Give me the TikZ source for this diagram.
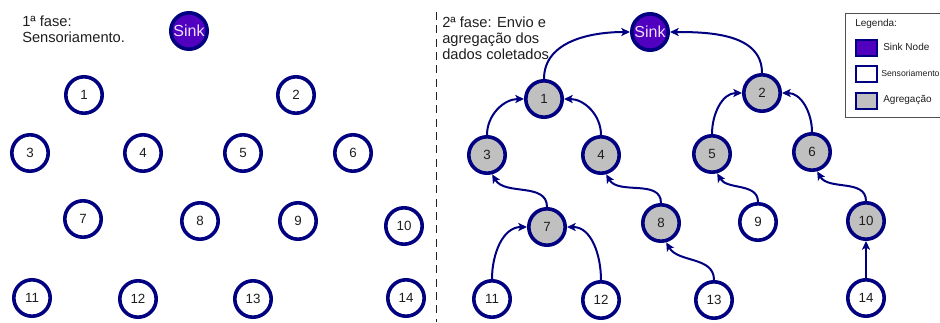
\documentclass[tikz,border=0pt]{standalone}
\usepackage{fontspec}
\setmainfont{Liberation Sans}
\usetikzlibrary{arrows.meta}
\definecolor{navy}{RGB}{0,0,128}
\definecolor{sinkfill}{RGB}{80,0,190}
\definecolor{sinktext}{RGB}{235,225,255}
\definecolor{agg}{RGB}{192,192,192}
\definecolor{ink}{RGB}{30,30,30}
\definecolor{frame}{RGB}{80,80,80}
\begin{document}
\begin{tikzpicture}[x=0.75pt,y=0.75pt,
  sensor/.style={circle,draw=navy,line width=2.7pt,minimum size=27.3pt,inner sep=0pt,
    fill=white,text=ink,font=\fontsize{10}{12}\selectfont},
  aggnode/.style={sensor,fill=agg},
  sinknode/.style={sensor,fill=sinkfill,text=sinktext,font=\fontsize{12}{14}\selectfont},
  link/.style={draw=navy,line width=1.5pt,-{Stealth[length=6.5pt,width=6pt,inset=1.5pt]}},
  phase/.style={anchor=north west,align=left,inner sep=0pt,text=ink,font=\fontsize{11}{12}\selectfont},
  legsq/.style={draw=navy,line width=1.5pt,minimum width=15.75pt,minimum height=12pt,inner sep=0pt,anchor=north west},
  legtxt/.style={anchor=west,inner sep=0pt,text=ink,font=\fontsize{7.5}{9}\selectfont},
]
\useasboundingbox (0,0) rectangle (940,-322);
\clip (0,0) rectangle (940,-322);

% ---------- phase 1: sensing ----------
\node[phase] (t1) at (22,-16) {1ª fase:\\Sensoriamento.};
\node[sinknode] (ls) at (189,-31) {Sink};
\node[sensor] (l1) at (84,-95) {1};
\node[sensor] (l2) at (296,-95) {2};
\node[sensor] (l3) at (30,-153) {3};
\node[sensor] (l4) at (143,-153) {4};
\node[sensor] (l5) at (243,-153) {5};
\node[sensor] (l6) at (353,-153) {6};
\node[sensor] (l7) at (83,-219) {7};
\node[sensor] (l8) at (200,-221) {8};
\node[sensor] (l9) at (298,-221) {9};
\node[sensor] (l10) at (404,-226) {10};
\node[sensor] (l11) at (32,-298) {11};
\node[sensor] (l12) at (138,-299) {12};
\node[sensor] (l13) at (253,-299) {13};
\node[sensor] (l14) at (406,-298) {14};

% separator
\draw[ink,line width=1pt,dash pattern=on 6pt off 4pt] (436.5,-12) -- (436.5,-322);

% ---------- phase 2: forwarding and aggregation ----------
\node[phase] (t2) at (442,-17) {2ª fase: Envio e\\agregação dos\\dados coletados};
\node[sinknode] (rs) at (650,-32) {Sink};
\node[aggnode] (r1) at (544,-99) {1};
\node[aggnode] (r2) at (762,-93) {2};
\node[aggnode] (r3) at (487,-155) {3};
\node[aggnode] (r4) at (601,-155) {4};
\node[aggnode] (r5) at (712,-154) {5};
\node[aggnode] (r6) at (812,-152) {6};
\node[aggnode] (r7) at (547,-227) {7};
\node[aggnode] (r8) at (661,-223) {8};
\node[sensor] (r9) at (758,-222) {9};
\node[aggnode] (r10) at (866,-221) {10};
\node[sensor] (r11) at (492,-299) {11};
\node[sensor] (r12) at (601,-300) {12};
\node[sensor] (r13) at (714,-300) {13};
\node[sensor] (r14) at (866,-298) {14};

\draw[link] (r1.north) to[out=90,in=180] (rs.west);
\draw[link] (r2.north) to[out=90,in=0] (rs.east);
\draw[link] (r3.north) to[out=90,in=180] (r1.west);
\draw[link] (r4.north) to[out=90,in=0] (r1.east);
\draw[link] (r5.north) to[out=90,in=180] (r2.west);
\draw[link] (r6.north) to[out=90,in=0] (r2.east);
\draw[link] (r7.north) to[out=90,in=-60] (r3.-75);
\draw[link] (r8.north) to[out=90,in=-60] (r4.-75);
\draw[link] (r9.north) to[out=90,in=-60] (r5.-75);
\draw[link] (r10.north) to[out=90,in=-60] (r6.-75);
\draw[link] (r11.north) to[out=90,in=180] (r7.west);
\draw[link] (r12.north) to[out=90,in=0] (r7.east);
\draw[link] (r13.north) to[out=90,in=-60] (r8.-75);
\draw[link] (r14.north) -- (r10.south);

% ---------- legend ----------
\draw[frame,line width=0.75pt] (845,-13) rectangle (950,-117);
\node[legtxt] (lg) at (855,-24) {Legenda:};
\node[legsq,fill=sinkfill] (k1) at (855,-39) {};
\node[legsq,fill=white] (k2) at (855,-65) {};
\node[legsq,fill=agg] (k3) at (855,-92) {};
\node[legtxt] (kt1) at (883,-47) {Sink Node};
\node[legtxt,font=\fontsize{6.5}{8}\selectfont] (kt2) at (881,-73) {Sensoriamento};
\node[legtxt] (kt3) at (883,-100) {Agregação};
\end{tikzpicture}
\end{document}
